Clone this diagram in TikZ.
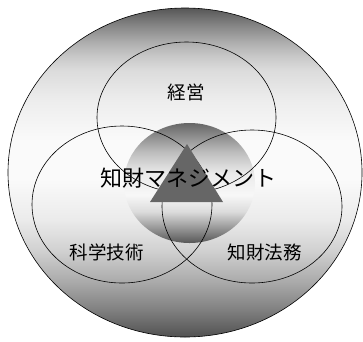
\documentclass[tikz,border=0pt]{standalone}
\usepackage{tikz}
\usetikzlibrary{shapes.geometric, positioning, calc}
\usepackage{xcolor}
\usepackage{fontspec}
\newfontfamily\jpfont{Noto Sans CJK JP}
\pgfdeclareverticalshading{outerfade}{100bp}{%
  color(0bp)=(black!68); color(25bp)=(black!68); color(29.1bp)=(black!50);
  color(33.2bp)=(black!34); color(38.2bp)=(black!18); color(42.8bp)=(black!8);
  color(48.9bp)=(black!2); color(54.9bp)=(black!2); color(61bp)=(black!7);
  color(65.6bp)=(black!14); color(67.8bp)=(black!22); color(69.8bp)=(black!32);
  color(72.4bp)=(black!48); color(75bp)=(black!66); color(100bp)=(black!66)}
\pgfdeclareverticalshading{corefade}{100bp}{%
  color(0bp)=(black!66); color(25bp)=(black!66); color(31bp)=(black!42);
  color(38bp)=(black!14); color(45bp)=(black!3); color(54bp)=(black!8);
  color(63bp)=(black!26); color(75bp)=(black!60); color(100bp)=(black!60)}
\begin{document}
\begin{tikzpicture}[
      x=1pt, y=-1pt,
      venn/.style={ellipse, draw=black, line width=0.6pt, inner sep=0pt},
      lbl/.style={font=\jpfont\fontsize{18.5}{20}\selectfont, inner sep=0pt},
      title/.style={font=\jpfont\fontsize{22}{24}\selectfont, inner sep=0pt}
    ]
    \useasboundingbox (0,0) rectangle (363,341);
    % outer field and central core
    \node[venn, shading=outerfade, minimum width=354pt, minimum height=329pt] (field) at (185,172.5) {};
    \node[ellipse, inner sep=0pt, shading=corefade, minimum width=131pt, minimum height=120pt] (core) at (189.5,183) {};
    % three areas
    \node[venn, minimum width=179pt, minimum height=151pt] (mgmt) at (186.5,117.5) {};
    \node[venn, minimum width=180pt, minimum height=157pt] (tech) at (122,204.5) {};
    \node[venn, minimum width=180pt, minimum height=153pt] (law) at (252,206.5) {};
    % triangle
    \fill[black!60] (150,202) -- (187,144) -- (223,202) -- cycle;
    \node[lbl] (mgmtlbl) at (186,92) {経営};
    \node[lbl] (techlbl) at (106.5,252) {科学技術};
    \node[lbl] (lawlbl) at (264.5,252) {知財法務};
    \node[title] (iplbl) at (188,178.5) {知財マネジメント};
  \end{tikzpicture}
\end{document}
